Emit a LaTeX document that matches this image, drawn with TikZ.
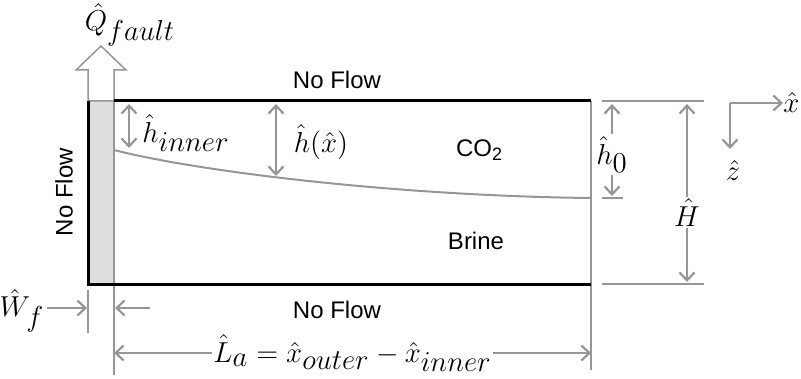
\documentclass[tikz,border=0pt]{standalone}
\usepackage{fontspec}
\setmainfont{Liberation Sans}
\DeclareMathSizes{14}{14}{14}{14}
\usetikzlibrary{arrows.meta}
\definecolor{dimgray}{RGB}{150,150,150}
\definecolor{faultgray}{RGB}{222,222,222}
\tikzset{
  >={Straight Barb[length=4pt,width=7.5pt,line width=1.1pt]},
  wall/.style={line width=1.5pt, black},
  dim/.style={draw=dimgray, line width=0.75pt},
  txt/.style={font=\fontsize{12}{14}\selectfont, inner sep=1pt},
  mth/.style={font=\fontsize{14}{17}\selectfont, inner sep=1pt}
}
\begin{document}
\begin{tikzpicture}[x=0.5pt,y=-0.5pt]
  \useasboundingbox (0,0) rectangle (801,379);
  % fault column and up-flow arrow
  \fill[faultgray] (88,101) rectangle (114,284);
  \draw[dim, fill=white] (88,101) -- (88,70) -- (76,70) -- (101,46) -- (126,70) -- (114,70) -- (114,101) -- cycle;
  \node[mth] (qfault) at (130,25) {$\hat{Q}_{fault}$};
  % aquifer
  \draw[dim] (114,101) -- (114,375);
  \draw[dim] (591,101) -- (591,370);
  \draw[wall] (114,101) -- (591,101);
  \draw[wall] (88,101) -- (88,284) -- (591,284);
  \draw[dim, line width=1pt] (114,150) .. controls (200,172) and (400,196) .. (591,198);
  \node[txt] (topflow) at (337,80) {No Flow};
  \node[txt] (botflow) at (337,310) {No Flow};
  \node[txt, rotate=90] (leftflow) at (64,192) {No Flow};
  \node[txt] (co2) at (479,150) {CO\raisebox{-0.35ex}{\fontsize{9}{10}\selectfont 2}};
  \node[txt] (brine) at (476,241) {Brine};
  % plume thickness
  \draw[dim, <->] (129,104) -- (129,148);
  \node[mth] (hinner) at (186,133) {$\hat{h}_{inner}$};
  \draw[dim, <->] (276,104) -- (276,176);
  \node[mth] (hx) at (321,142) {$\hat{h}(\hat{x})$};
  % right-hand dimensions
  \draw[dim] (602,101) -- (704,101);
  \draw[dim] (602,198) -- (623,198);
  \draw[dim] (602,284) -- (704,284);
  \draw[dim, <->] (612,104) -- node[mth, fill=white, pos=0.55] (hzero) {$\hat{h}_0$} (612,196);
  \draw[dim, <->] (687,104) -- node[mth, fill=white, pos=0.61] (height) {$\hat{H}$} (687,282);
  % axes
  \coordinate (origin) at (730,103);
  \node[mth, anchor=west, inner sep=0pt] (xhat) at (783,103) {$\hat{x}$};
  \node[mth] (zhat) at (733,170) {$\hat{z}$};
  \draw[dim, ->] (origin) -- (xhat.west);
  \draw[dim, ->] (origin) -- (730,149);
  % fault width and aquifer length
  \draw[dim] (88,290) -- (88,333);
  \node[mth] (wf) at (22,311) {$\hat{W}_f$};
  \draw[dim, ->] (wf.east |- 0,308) -- (87,308);
  \draw[dim, ->] (150,308) -- (115,308);
  \draw[dim, <->] (114,353) -- node[mth, fill=white, inner sep=0.5pt] (length) {$\hat{L}_a = \hat{x}_{outer} - \hat{x}_{inner}$} (591,353);
\end{tikzpicture}
\end{document}
